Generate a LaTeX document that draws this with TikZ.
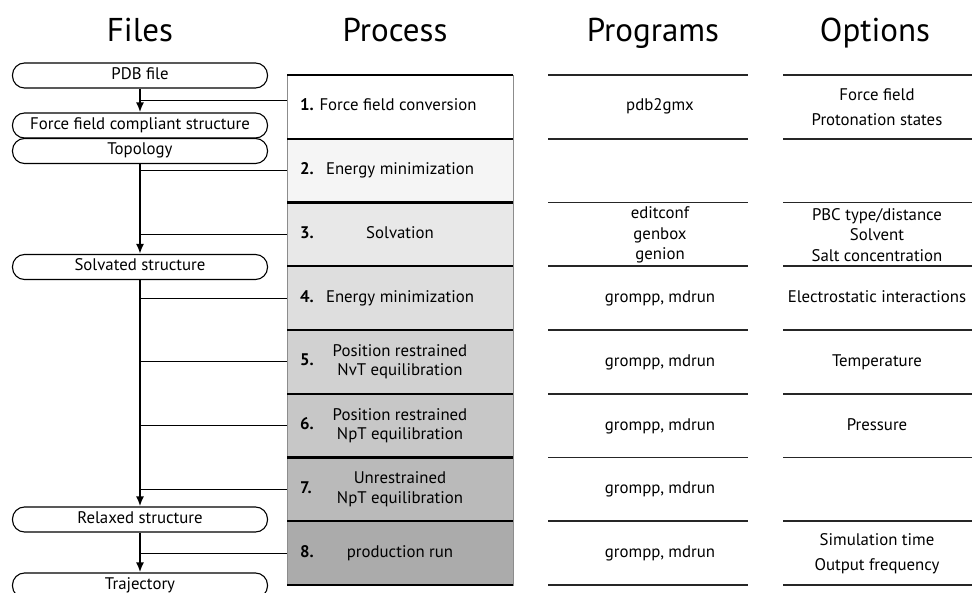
\documentclass[tikz,border=0pt]{standalone}
\usepackage{fontspec}
\setmainfont{PT Sans}
\usetikzlibrary{arrows.meta,positioning}

\begin{document}
\begin{tikzpicture}[x=1pt,y=-1pt,
  every node/.style={font=\fontsize{16.8}{19.5}\selectfont},
  head/.style={font=\fontsize{33}{36}\selectfont,anchor=base},
  lbl/.style={text height=12pt,text depth=4pt},
  filebox/.style={draw,line width=1.1pt,rounded corners=12pt,minimum width=255pt,minimum height=25pt,inner sep=0pt,lbl},
  procbox/.style={draw=black!45,line width=0.7pt,minimum width=226pt,minimum height=63.75pt,inner sep=0pt},
  num/.style={anchor=west,font=\fontsize{16.8}{19.5}\selectfont\bfseries,lbl},
  boxline/.style={line width=2.2pt},
  colrule/.style={line width=1.6pt,black!85},
  flow/.style={line width=2.2pt,-{Latex[length=10pt,width=8pt]}},
  link/.style={line width=1.2pt}]
\useasboundingbox (0,0) rectangle (972,593);

\node[head] (hfiles) at (140,42) {Files};
\node[head] (hproc) at (395,42) {Process};
\node[head] (hprog) at (653,42) {Programs};
\node[head] (hopt) at (875,42) {Options};

\foreach \i/\g in {1/0,2/4,3/9,4/13,5/18,6/22,7/27,8/33}
  \node[procbox,fill=black!\g] (p\i) at (400,{75+63.75*(\i-0.5)}) {};
\foreach \i in {0,...,8}{
  \draw[boxline] (287,{75+63.75*\i}) -- (513,{75+63.75*\i});
  \draw[colrule] (548,{75+63.75*\i}) -- (748,{75+63.75*\i});
  \draw[colrule] (783,{75+63.75*\i}) -- (972,{75+63.75*\i});
}
\foreach \i in {1,...,8}
  \node[num] (n\i) at ([xshift=10pt]p\i.west) {\i.};

\node[lbl] (t1) at ([xshift=-2pt]p1.center) {Force field conversion};
\node[lbl] (t2) at (p2) {Energy minimization};
\node[lbl] (t3) at (p3) {Solvation};
\node[lbl] (t4) at (p4) {Energy minimization};
\node[align=center] (t5) at (p5) {Position restrained\\NvT equilibration};
\node[align=center] (t6) at (p6) {Position restrained\\NpT equilibration};
\node[align=center] (t7) at (p7) {Unrestrained\\NpT equilibration};
\node[lbl] (t8) at (p8) {production run};

\node[lbl] (g1) at (660,107) {pdb2gmx};
\node[align=center,font=\fontsize{16.8}{20.5}\selectfont] (g3) at (660,235) {editconf\\genbox\\genion};
\node[lbl] (g4) at (660,298.6) {grompp, mdrun};
\node[lbl] (g5) at (660,362.4) {grompp, mdrun};
\node[lbl] (g6) at (660,426.1) {grompp, mdrun};
\node[lbl] (g7) at (660,489.9) {grompp, mdrun};
\node[lbl] (g8) at (660,553.6) {grompp, mdrun};

\node[align=center,font=\fontsize{16.8}{25.5}\selectfont] (o1) at (877,107) {Force field\\Protonation states};
\node[align=center,font=\fontsize{16.8}{20.5}\selectfont] (o3) at (877,235) {PBC type/distance\\Solvent\\Salt concentration};
\node[lbl] (o4) at (877,298.6) {Electrostatic interactions};
\node[lbl] (o5) at (877,362.4) {Temperature};
\node[lbl] (o6) at (877,426.1) {Pressure};
\node[align=center,font=\fontsize{16.8}{25.5}\selectfont] (o8) at (877,553.6) {Simulation time\\Output frequency};

\node[filebox] (pdb) at (140,75.5) {PDB file};
\node[filebox] (ffc) at (140,125.5) {Force field compliant structure};
\node[filebox] (topo) at (140,151) {Topology};
\node[filebox] (solv) at (140,267) {Solvated structure};
\node[filebox] (relax) at (140,519.5) {Relaxed structure};
\node[filebox] (traj) at (140,585.5) {Trajectory};

\draw[flow] (pdb) -- (ffc);
\draw[flow] (topo) -- (solv);
\draw[flow] (solv) -- (relax);
\draw[flow] (relax) -- (traj);

\coordinate (j1) at ([yshift=6pt]p1.west);
\draw[link] (j1) -- (j1 -| pdb.south);
\foreach \i in {2,...,8}
  \draw[link] (p\i.west) -- (p\i.west -| pdb.south);
\end{tikzpicture}
\end{document}
